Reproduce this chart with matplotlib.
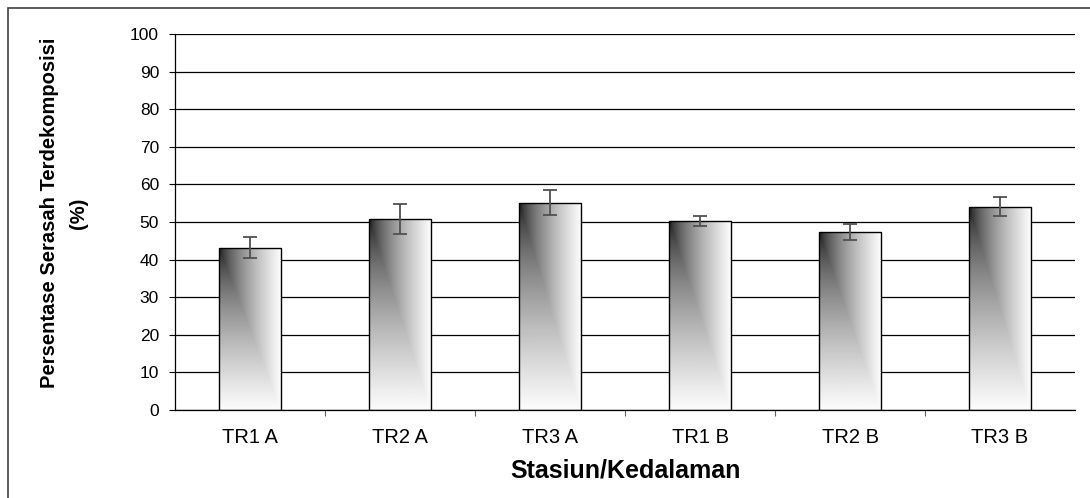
import numpy as np
import matplotlib
matplotlib.use("Agg")
import matplotlib.pyplot as plt
from matplotlib.patches import Rectangle

plt.rcParams['font.family'] = ['Liberation Sans', 'DejaVu Sans']

# Data: station/depth, mean decomposed litter (%), error
stations = ['TR1 A', 'TR2 A', 'TR3 A', 'TR1 B', 'TR2 B', 'TR3 B']
persen = [43.2, 50.7, 55.1, 50.3, 47.3, 54.1]
galat = [2.8, 4.0, 3.3, 1.4, 2.15, 2.5]

fig = plt.figure(figsize=(10.9, 4.98), dpi=100)
ax = fig.add_axes([175 / 1090, 1 - 410 / 498, 900 / 1090, 376 / 498])

x = np.arange(len(stations))
width = 0.41

# "from corner" gradient: black at top-left, fading to white
n = 200
u = np.linspace(0, 1, n)
uu, vv = np.meshgrid(u, u)
t = np.maximum(uu, vv) ** 0.62
grad = 0.06 + 0.93 * t

bars = ax.bar(x, persen, width, facecolor='none', edgecolor='black',
              linewidth=1.0, zorder=3)
for bar in bars:
    x0 = bar.get_x()
    im = ax.imshow(grad, cmap='gray', vmin=0, vmax=1, aspect='auto',
                   origin='upper', interpolation='bilinear',
                   extent=(x0, x0 + bar.get_width(), 0, bar.get_height()),
                   zorder=2)
    im.set_clip_path(bar)

ax.errorbar(x, persen, yerr=galat, fmt='none', ecolor='#505050',
            elinewidth=1.3, capsize=4.7, capthick=1.3, zorder=4)

ax.set_xlim(-0.5, len(stations) - 0.5)
ax.set_ylim(0, 100)
ax.set_yticks(np.arange(0, 101, 10))
ax.grid(axis='y', color='black', linewidth=0.9, zorder=0)
ax.set_axisbelow(True)

ax.set_xticks(x)
ax.set_xticklabels(stations, fontsize=14.5)
ax.set_xticks(np.arange(0.5, len(stations) - 1, 1), minor=True)
ax.tick_params(axis='x', which='major', length=0, pad=13)
ax.tick_params(axis='x', which='minor', length=4, width=0.8, color='#606060')
ax.tick_params(axis='y', length=4.5, width=0.8, pad=7, labelsize=12.5)

for side in ['top', 'right']:
    ax.spines[side].set_visible(False)
for side in ['left', 'bottom']:
    ax.spines[side].set_linewidth(0.9)

ax.set_xlabel('Stasiun/Kedalaman', fontsize=18, fontweight='bold')
ax.xaxis.set_label_coords(0.5, -0.16)
ax.xaxis.label.set_va('center')

ax.set_ylabel('Persentase Serasah Terdekomposisi\n(%)', fontsize=14.5,
              fontweight='bold', linespacing=1.7)
ax.yaxis.set_label_coords(-0.1233, 0.524)
ax.yaxis.label.set_va('center')

# outer chart border (only left/top visible in the original crop)
fig.patches.append(Rectangle((8 / 1090, -0.2), 1.2, 1.2 - 8 / 498,
                             transform=fig.transFigure, fill=False,
                             edgecolor='#404040', linewidth=1.2))

fig.savefig('out.png', dpi=100)
